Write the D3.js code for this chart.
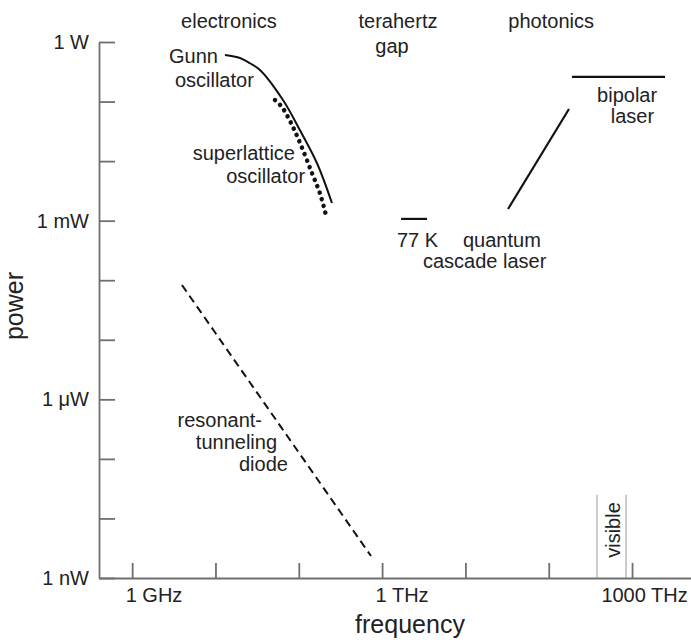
<!DOCTYPE html>
<html>
<head>
<meta charset="utf-8">
<script src="https://cdn.jsdelivr.net/npm/d3@7"></script>
<style>
    body { margin: 0; background: #fff; }
    svg text { font-family: "Liberation Sans", Arial, sans-serif; fill: #222; }
    .axis path, .axis line { stroke: #6f6f6f; stroke-width: 1.8; }
    .axis text { font-size: 20px; fill: #222; }
</style>
</head>
<body>
<div id="chart"></div>
<script>
// frequency in GHz, power in W
var gunnFreq = [13.0, 19.7, 25.9, 34.2, 64.6, 103, 165, 250],
    gunnPower = [0.605, 0.54, 0.44, 0.339, 0.106, 0.0333, 0.0093, 0.00198];

var slFreq = [51.8, 62.8, 85.1, 112, 144, 179, 212],
    slPower = [0.106, 0.081, 0.0374, 0.0154, 0.0063, 0.0029, 0.00124];

var rtdFreq = [3.96, 736],
    rtdPower = [8.3e-5, 2.34e-9];

var qclFreq = [32500, 175000],
    qclPower = [1.57e-3, 0.075];

var qcl77Freq = [1690, 3460],
    qcl77Power = [1.07e-3, 1.07e-3];

var bipolarFreq = [190000, 2490000],
    bipolarPower = [0.26, 0.26];

var visibleFreq = [380000, 847000],
    visiblePower = [1e-9, 2.5e-8];

var xTickValues = [1, 10, 100, 1e3, 1e4, 1e5, 1e6],
    xTickLabels = {1: "1 GHz", 1000: "1 THz", 1000000: "1000 THz"};
var yTickValues = [1e-9, 1e-8, 1e-7, 1e-6, 1e-5, 1e-4, 1e-3, 1e-2, 1e-1, 1],
    yTickLabels = {"1e-9": "1 nW", "0.000001": "1 \u03bcW", "0.001": "1 mW", "1": "1 W"};

// text notes, anchored in data units
var notes = [
    {text: "electronics", f: 14.5, p: 1.72, anchor: "middle"},
    {text: "terahertz", f: 1552, p: 1.72, anchor: "middle"},
    {text: "gap", f: 1315, p: 0.654, anchor: "middle"},
    {text: "photonics", f: 1.07e5, p: 1.72, anchor: "middle"},
    {text: "Gunn", f: 2.77, p: 0.444, anchor: "start"},
    {text: "oscillator", f: 3.26, p: 0.176, anchor: "start"},
    {text: "superlattice", f: 90, p: 0.01044, anchor: "end"},
    {text: "oscillator", f: 119, p: 0.0043, anchor: "end"},
    {text: "resonant-", f: 36.2, p: 3.43e-7, anchor: "end"},
    {text: "tunneling", f: 54.8, p: 1.47e-7, anchor: "end"},
    {text: "diode", f: 74.1, p: 6.26e-8, anchor: "end"},
    {text: "77 K", f: 1510, p: 3.61e-4, anchor: "start"},
    {text: "quantum", f: 9350, p: 3.61e-4, anchor: "start"},
    {text: "cascade laser", f: 3097, p: 1.6e-4, anchor: "start"},
    {text: "bipolar", f: 2.0e6, p: 0.0984, anchor: "end"},
    {text: "laser", f: 1.84e6, p: 0.0437, anchor: "end"}
];

function zipPts(fs, ps) {
    return fs.map(function (f, i) { return [f, ps[i]]; });
}

var width = 691, height = 643;

var svg = d3.select("#chart").append("svg")
    .attr("width", width)
    .attr("height", height);

var x = d3.scaleLog().domain([0.4, 5.1e6]).range([99, 691]),
    y = d3.scaleLog().domain([1e-9, 1]).range([578, 42]);

var xAxis = d3.axisBottom(x)
    .tickValues(xTickValues)
    .tickSize(-15)
    .tickSizeOuter(0)
    .tickPadding(10)
    .tickFormat(function (d) { return xTickLabels[d] || ""; });

var yAxis = d3.axisLeft(y)
    .tickValues(yTickValues)
    .tickSize(-16)
    .tickSizeOuter(0)
    .tickPadding(10)
    .tickFormat(function (d) { return yTickLabels[String(d)] || ""; });

var gx = svg.append("g")
    .attr("class", "axis axis--x")
    .attr("transform", "translate(0," + 578 + ")")
    .call(xAxis);

// labels are not centred on their ticks in the original
gx.selectAll(".tick text")
    .attr("text-anchor", function (d) { return d === 1e6 ? "middle" : "start"; })
    .attr("dx", function (d) { return d === 1e6 ? 12 : -7; });

svg.append("g")
    .attr("class", "axis axis--y")
    .attr("transform", "translate(" + 99 + ",0)")
    .call(yAxis);

// visible band borders
svg.selectAll(".visible")
    .data(visibleFreq)
    .enter().append("line")
    .attr("class", "visible")
    .attr("x1", function (d) { return x(d); })
    .attr("x2", function (d) { return x(d); })
    .attr("y1", y(visiblePower[0]))
    .attr("y2", y(visiblePower[1]))
    .style("stroke", "#999")
    .style("stroke-width", 1);

svg.append("text")
    .attr("transform", "translate(" + x(7.2e5) + "," + y(6.4e-9) + ") rotate(-90)")
    .attr("text-anchor", "middle")
    .style("font-size", "20px")
    .text("visible");

var line = d3.line()
    .x(function (d) { return x(d[0]); })
    .y(function (d) { return y(d[1]); });

svg.append("path")
    .datum(zipPts(gunnFreq, gunnPower))
    .attr("d", line.curve(d3.curveCatmullRom))
    .style("fill", "none")
    .style("stroke", "#111")
    .style("stroke-width", 2);

svg.append("path")
    .datum(zipPts(slFreq, slPower))
    .attr("d", line.curve(d3.curveCatmullRom))
    .style("fill", "none")
    .style("stroke", "#111")
    .style("stroke-width", 4.5)
    .style("stroke-linecap", "round")
    .style("stroke-dasharray", "0.1 6.8");

line.curve(d3.curveLinear);

svg.append("path")
    .datum(zipPts(rtdFreq, rtdPower))
    .attr("d", line)
    .style("fill", "none")
    .style("stroke", "#111")
    .style("stroke-width", 2)
    .style("stroke-dasharray", "8 5");

[[qclFreq, qclPower], [qcl77Freq, qcl77Power], [bipolarFreq, bipolarPower]].forEach(function (s) {
    svg.append("path")
        .datum(zipPts(s[0], s[1]))
        .attr("d", line)
        .style("fill", "none")
        .style("stroke", "#111")
        .style("stroke-width", 2.2);
});

svg.selectAll(".note")
    .data(notes)
    .enter().append("text")
    .attr("class", "note")
    .attr("x", function (d) { return x(d.f); })
    .attr("y", function (d) { return y(d.p); })
    .attr("text-anchor", function (d) { return d.anchor; })
    .style("font-size", "20px")
    .text(function (d) { return d.text; });

svg.append("text")
    .attr("x", 410)
    .attr("y", 633)
    .attr("text-anchor", "middle")
    .style("font-size", "25px")
    .text("frequency");

svg.append("text")
    .attr("transform", "translate(23,306) rotate(-90)")
    .attr("text-anchor", "middle")
    .style("font-size", "25px")
    .text("power");
</script>
</body>
</html>
